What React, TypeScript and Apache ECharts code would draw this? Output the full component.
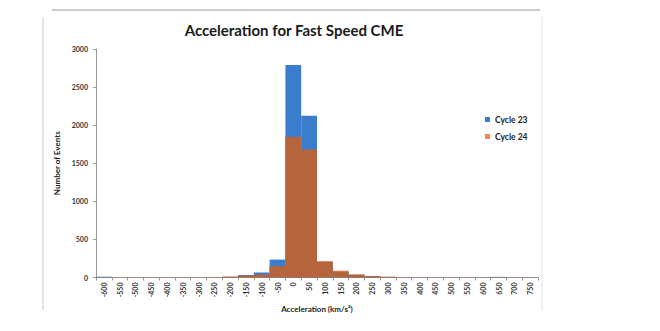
import React, { useEffect, useRef } from "react";
import * as echarts from "echarts";

const categories = [
  "-600", "-550", "-500", "-450", "-400", "-350", "-300", "-250", "-200", "-150",
  "-100", "-50", "0", "50", "100", "150", "200", "250", "300", "350",
  "400", "450", "500", "550", "600", "650", "700", "750",
];
const cycle23 = [10, 2, 2, 2, 2, 2, 2, 3, 8, 32, 65, 235, 2790, 2125, 205, 75, 35, 15, 8, 3, 2, 2, 2, 2, 2, 8, 2, 2];
const cycle24 = [3, 4, 4, 4, 4, 4, 4, 5, 14, 25, 40, 150, 1848, 1680, 215, 90, 40, 20, 10, 4, 3, 3, 3, 3, 3, 3, 3, 3];

const BLUE = "#3a7dcc";
const ORANGE = "#ef8a4a";
const BROWN = "#b5643c";
const FONT = "Lato, 'Open Sans', sans-serif";

export default function App() {
  const ref = useRef<HTMLDivElement>(null);
  useEffect(() => {
    if (!ref.current) return;
    const chart = echarts.init(ref.current, null, { renderer: "svg" });
    const overlap = cycle23.map((v, i) => Math.min(v, cycle24[i]));
    chart.setOption({
      animation: false,
      backgroundColor: "#ffffff",
      textStyle: { fontFamily: FONT },
      title: {
        text: "Acceleration for Fast Speed CME",
        left: 289,
        top: 17,
        textAlign: "center",
        textStyle: { fontFamily: FONT, fontSize: 15, fontWeight: "bold", color: "#1a1a1a" },
      },
      legend: {
        data: [
          { name: "Cycle 23", itemStyle: { color: BLUE } },
          { name: "Cycle 24", itemStyle: { color: ORANGE } },
        ],
        orient: "vertical",
        left: 480,
        top: 110,
        itemWidth: 5,
        itemHeight: 5,
        itemGap: 8,
        icon: "rect",
        textStyle: { fontFamily: FONT, fontSize: 8.5, fontWeight: "bold", color: "#222" },
      },
      grid: { left: 96, right: 122, top: 49, bottom: 53.5, containLabel: false },
      xAxis: {
        type: "category",
        data: categories,
        name: "Acceleration (km/s²)",
        nameLocation: "middle",
        nameGap: 27,
        nameTextStyle: { fontFamily: FONT, fontSize: 8, fontWeight: "bold", color: "#222" },
        axisLine: { lineStyle: { color: "#999" } },
        axisTick: { show: true, length: 3, lineStyle: { color: "#999" } },
        axisLabel: { rotate: 90, fontSize: 7, fontWeight: "bold", color: "#333", margin: 5, interval: 0 },
      },
      yAxis: {
        type: "value",
        min: 0,
        max: 3000,
        interval: 500,
        name: "Number of Events",
        nameLocation: "middle",
        nameGap: 28,
        nameTextStyle: { fontFamily: FONT, fontSize: 8, fontWeight: "bold", color: "#222" },
        axisLine: { show: true, lineStyle: { color: "#999" } },
        axisTick: { show: true, length: 3, lineStyle: { color: "#999" } },
        axisLabel: { fontSize: 7, fontWeight: "bold", color: "#333", margin: 8, formatter: (v: number) => String(v) },
        splitLine: { show: false },
      },
      series: [
        {
          name: "Cycle 24",
          type: "bar",
          data: cycle24,
          barCategoryGap: "0%",
          barGap: "-100%",
          itemStyle: { color: ORANGE },
        },
        {
          name: "Cycle 23",
          type: "bar",
          data: cycle23,
          barCategoryGap: "0%",
          barGap: "-100%",
          itemStyle: { color: BLUE },
        },
        {
          name: "overlap",
          type: "bar",
          data: overlap,
          barCategoryGap: "0%",
          barGap: "-100%",
          itemStyle: { color: BROWN },
        },
      ],
      graphic: [
        { type: "line", shape: { x1: 52, y1: 10, x2: 540, y2: 10 }, style: { stroke: "#bbb", lineWidth: 1.5 } },
        { type: "line", shape: { x1: 43, y1: 17, x2: 43, y2: 310 }, style: { stroke: "#ccc", lineWidth: 1 } },
        { type: "line", shape: { x1: 542, y1: 17, x2: 542, y2: 310 }, style: { stroke: "#e2e2e2", lineWidth: 1 } },
      ],
    });
    return () => chart.dispose();
  }, []);
  return <div ref={ref} style={{ width: 660, height: 331, position: "absolute", left: 0, top: 0 }} />;
}
